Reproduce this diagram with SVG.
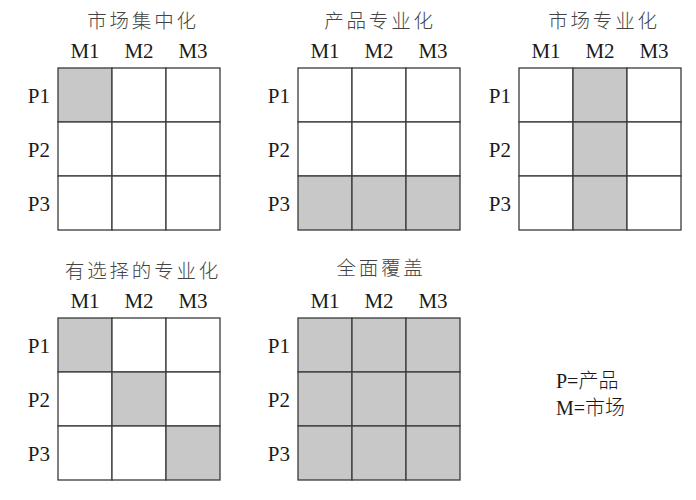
<svg xmlns="http://www.w3.org/2000/svg" width="696" height="500" viewBox="0 0 696 500">
<style>
.c{fill:#fff;stroke:#3a3a3a;stroke-width:1.3}
.s{fill:#c8c8c8;stroke:#3a3a3a;stroke-width:1.3}
.t{font-family:'Noto Sans CJK SC',sans-serif;font-size:19.5px;letter-spacing:2.8px;fill:#444;text-anchor:middle;font-weight:300}
.m{font-size:21px;fill:#1a1a1a;text-anchor:middle}
.p{font-size:21px;fill:#1a1a1a;text-anchor:end}
.l{font-size:20px;fill:#1a1a1a}
.lc{font-family:'Noto Sans CJK SC',sans-serif;font-weight:300}
</style>
<rect width="696" height="500" fill="#fff"/>
<g id="g1" transform="translate(58,68)">
<text class="t" x="85" y="-40">市场集中化</text>
<g font-family="Liberation Serif, DejaVu Serif, serif">
<text class="m" x="27" y="-10">M1</text><text class="m" x="81" y="-10">M2</text><text class="m" x="135" y="-10">M3</text>
<text class="p" x="-8" y="35">P1</text><text class="p" x="-8" y="89">P2</text><text class="p" x="-8" y="143">P3</text>
</g>
<rect class="s" x="0" y="0" width="54" height="54"/><rect class="c" x="54" y="0" width="54" height="54"/><rect class="c" x="108" y="0" width="54" height="54"/>
<rect class="c" x="0" y="54" width="54" height="54"/><rect class="c" x="54" y="54" width="54" height="54"/><rect class="c" x="108" y="54" width="54" height="54"/>
<rect class="c" x="0" y="108" width="54" height="54"/><rect class="c" x="54" y="108" width="54" height="54"/><rect class="c" x="108" y="108" width="54" height="54"/>
</g>
<g id="g2" transform="translate(298,68)">
<text class="t" x="82" y="-40">产品专业化</text>
<g font-family="Liberation Serif, DejaVu Serif, serif">
<text class="m" x="27" y="-10">M1</text><text class="m" x="81" y="-10">M2</text><text class="m" x="135" y="-10">M3</text>
<text class="p" x="-8" y="35">P1</text><text class="p" x="-8" y="89">P2</text><text class="p" x="-8" y="143">P3</text>
</g>
<rect class="c" x="0" y="0" width="54" height="54"/><rect class="c" x="54" y="0" width="54" height="54"/><rect class="c" x="108" y="0" width="54" height="54"/>
<rect class="c" x="0" y="54" width="54" height="54"/><rect class="c" x="54" y="54" width="54" height="54"/><rect class="c" x="108" y="54" width="54" height="54"/>
<rect class="s" x="0" y="108" width="54" height="54"/><rect class="s" x="54" y="108" width="54" height="54"/><rect class="s" x="108" y="108" width="54" height="54"/>
</g>
<g id="g3" transform="translate(519,68)">
<text class="t" x="85" y="-40">市场专业化</text>
<g font-family="Liberation Serif, DejaVu Serif, serif">
<text class="m" x="27" y="-10">M1</text><text class="m" x="81" y="-10">M2</text><text class="m" x="135" y="-10">M3</text>
<text class="p" x="-8" y="35">P1</text><text class="p" x="-8" y="89">P2</text><text class="p" x="-8" y="143">P3</text>
</g>
<rect class="c" x="0" y="0" width="54" height="54"/><rect class="s" x="54" y="0" width="54" height="54"/><rect class="c" x="108" y="0" width="54" height="54"/>
<rect class="c" x="0" y="54" width="54" height="54"/><rect class="s" x="54" y="54" width="54" height="54"/><rect class="c" x="108" y="54" width="54" height="54"/>
<rect class="c" x="0" y="108" width="54" height="54"/><rect class="s" x="54" y="108" width="54" height="54"/><rect class="c" x="108" y="108" width="54" height="54"/>
</g>
<g id="g4" transform="translate(58,318)">
<text class="t" x="85" y="-40">有选择的专业化</text>
<g font-family="Liberation Serif, DejaVu Serif, serif">
<text class="m" x="27" y="-10">M1</text><text class="m" x="81" y="-10">M2</text><text class="m" x="135" y="-10">M3</text>
<text class="p" x="-8" y="35">P1</text><text class="p" x="-8" y="89">P2</text><text class="p" x="-8" y="143">P3</text>
</g>
<rect class="s" x="0" y="0" width="54" height="54"/><rect class="c" x="54" y="0" width="54" height="54"/><rect class="c" x="108" y="0" width="54" height="54"/>
<rect class="c" x="0" y="54" width="54" height="54"/><rect class="s" x="54" y="54" width="54" height="54"/><rect class="c" x="108" y="54" width="54" height="54"/>
<rect class="c" x="0" y="108" width="54" height="54"/><rect class="c" x="54" y="108" width="54" height="54"/><rect class="s" x="108" y="108" width="54" height="54"/>
</g>
<g id="g5" transform="translate(298,318)">
<text class="t" x="83" y="-43">全面覆盖</text>
<g font-family="Liberation Serif, DejaVu Serif, serif">
<text class="m" x="27" y="-10">M1</text><text class="m" x="81" y="-10">M2</text><text class="m" x="135" y="-10">M3</text>
<text class="p" x="-8" y="35">P1</text><text class="p" x="-8" y="89">P2</text><text class="p" x="-8" y="143">P3</text>
</g>
<rect class="s" x="0" y="0" width="54" height="54"/><rect class="s" x="54" y="0" width="54" height="54"/><rect class="s" x="108" y="0" width="54" height="54"/>
<rect class="s" x="0" y="54" width="54" height="54"/><rect class="s" x="54" y="54" width="54" height="54"/><rect class="s" x="108" y="54" width="54" height="54"/>
<rect class="s" x="0" y="108" width="54" height="54"/><rect class="s" x="54" y="108" width="54" height="54"/><rect class="s" x="108" y="108" width="54" height="54"/>
</g>
<g id="legend" font-family="Liberation Serif, DejaVu Serif, serif">
<text class="l" x="556" y="388">P=<tspan class="lc">产品</tspan></text>
<text class="l" x="556" y="415">M=<tspan class="lc">市场</tspan></text>
</g>
<g id="connectors"/>
</svg>
